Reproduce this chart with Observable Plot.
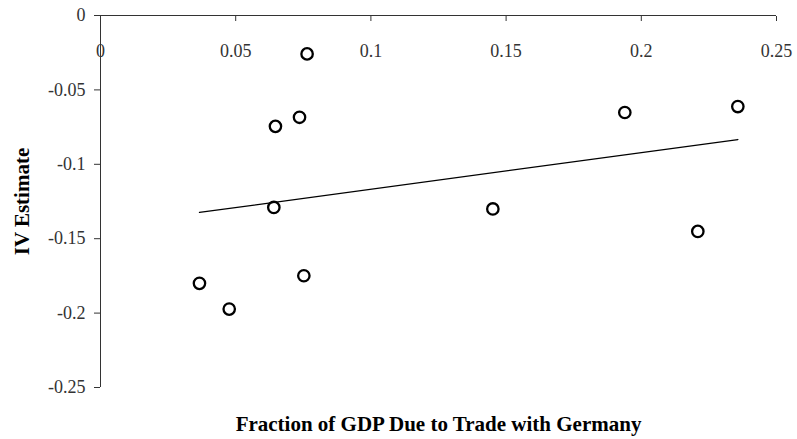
<!DOCTYPE html>
<html><head><meta charset="utf-8">
<script src="https://cdn.jsdelivr.net/npm/d3@7"></script>
<script src="https://cdn.jsdelivr.net/npm/@observablehq/plot@0.6"></script>
<style>body{margin:0;background:#fff} svg{display:block}</style>
</head><body><div id="chart"></div>
<script>
const fractionGDP = [0.0366, 0.0476, 0.0647, 0.0736, 0.0641, 0.0752, 0.0764, 0.1451, 0.1939, 0.2357, 0.2209];
const ivEstimate  = [-0.180, -0.1973, -0.0745, -0.0684, -0.129, -0.1749, -0.0258, -0.130, -0.0652, -0.0612, -0.1451];
const xTicks = [0, 0.05, 0.1, 0.15, 0.2, 0.25];
const yTicks = [0, -0.05, -0.1, -0.15, -0.2, -0.25];
const xTickLabels = ["0", "0.05", "0.1", "0.15", "0.2", "0.25"];
const yTickLabels = ["0", "-0.05", "-0.1", "-0.15", "-0.2", "-0.25"];
const xTitle = "Fraction of GDP Due to Trade with Germany";
const yTitle = "IV Estimate";
const data = fractionGDP.map((x, i) => ({x, y: ivEstimate[i]}));

const plot = Plot.plot({
  width: 797, height: 439,
  marginLeft: 100, marginTop: 15, marginRight: 21, marginBottom: 52,
  style: {fontFamily: "'Liberation Serif', serif", fontSize: "18px", background: "#fff", color: "#000"},
  x: {domain: [0, 0.25]},
  y: {domain: [-0.25, 0]},
  marks: [
    Plot.ruleX([0], {y1: -0.25, y2: 0, stroke: "#333"}),
    Plot.ruleY([0], {x1: 0, x2: 0.25, stroke: "#333"}),
    Plot.axisY(yTicks, {anchor: "left", tickSize: 6, tickPadding: 9, stroke: "#333", fill: "#333", fontSize: 18,
      tickFormat: d => yTickLabels[yTicks.indexOf(d)], label: null}),
    Plot.axisX(xTicks, {anchor: "top", tickSize: -5, tickPadding: -36, stroke: "#333", fill: "#333", fontSize: 18,
      tickFormat: d => xTickLabels[xTicks.indexOf(d)], label: null}),
    Plot.linearRegressionY(data, {x: "x", y: "y", ci: 0, stroke: "#000", strokeWidth: 1.3}),
    Plot.dot(data, {x: "x", y: "y", r: 5.7, stroke: "#000", strokeWidth: 2.3, fill: "none"}),
    Plot.text([yTitle], {frameAnchor: "left", dx: -78, rotate: -90, textAnchor: "middle", lineAnchor: "middle",
      fontWeight: "bold", fontSize: 21, fill: "#000"}),
    Plot.text([xTitle], {frameAnchor: "bottom", dy: 37, textAnchor: "middle", lineAnchor: "middle",
      fontWeight: "bold", fontSize: 21, fill: "#000"})
  ]
});
document.getElementById("chart").appendChild(plot);
</script>
</body></html>
